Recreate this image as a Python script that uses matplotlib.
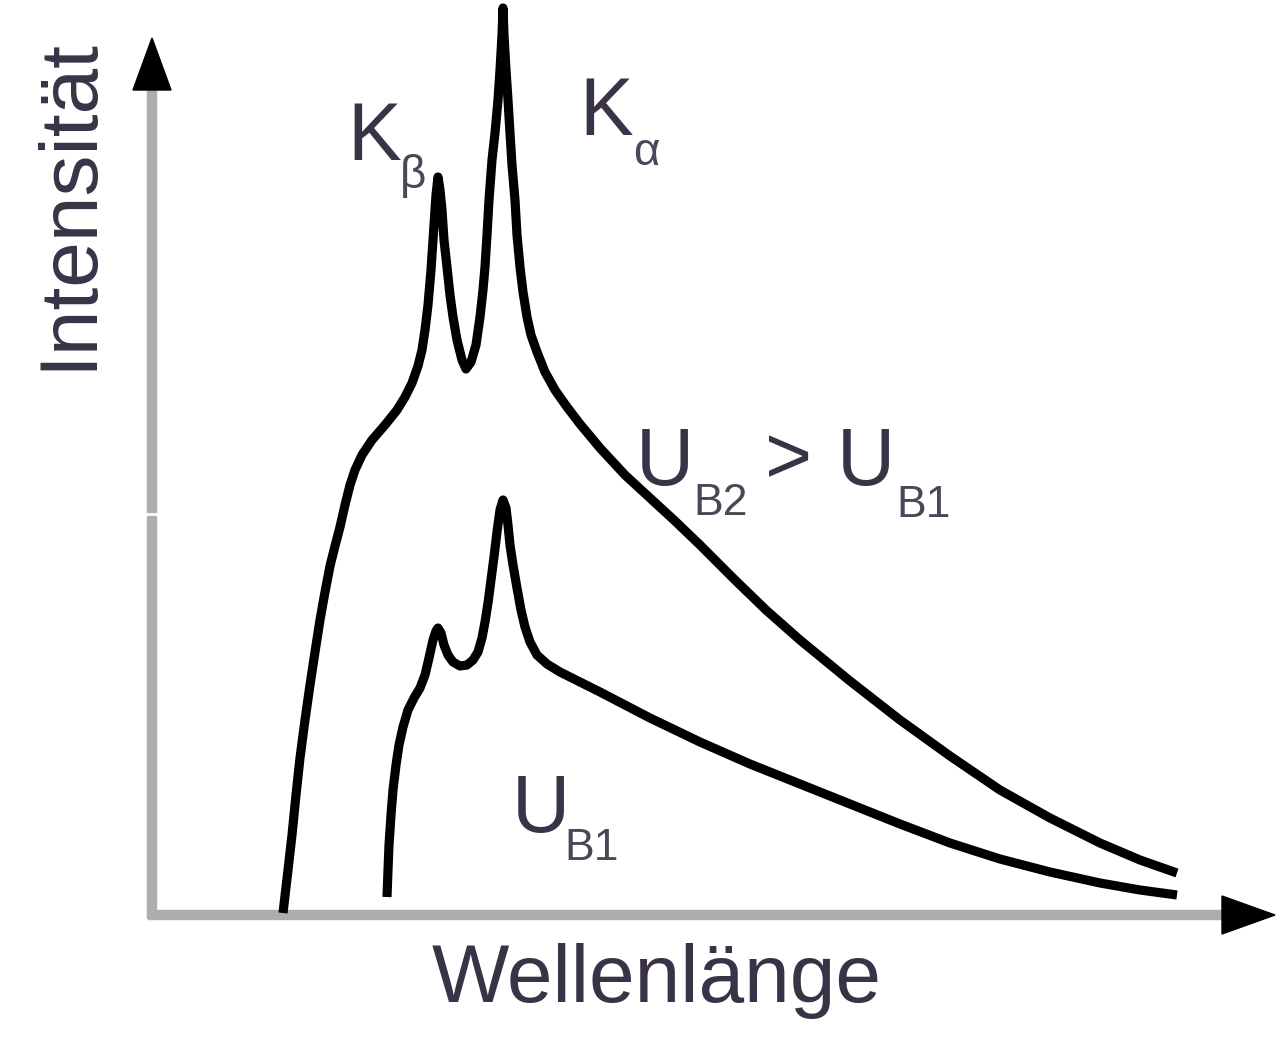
import matplotlib
matplotlib.use("Agg")
import matplotlib.pyplot as plt
from matplotlib.patches import Polygon

# ---- data (wavelength, intensity in arbitrary units) ----
upper_wl = [131, 136, 140, 144, 148, 153, 158, 163, 168, 173, 178, 183, 188, 193, 198,
            203, 210, 220, 233, 245, 253, 260, 266, 270, 273, 276, 279, 282, 284, 286,
            288, 290, 292, 295, 298, 301, 305, 310, 314, 319, 324, 328, 331, 333, 335,
            337, 340, 343, 346, 348, 350, 351, 352, 354, 356, 358, 360, 363, 365, 368,
            371, 375, 379, 385, 393, 403, 415, 428, 448, 473, 498, 523, 548, 581, 614,
            648, 698, 748, 798, 848, 898, 948, 988, 1025]
upper_int = [2, 45, 80, 120, 157, 195, 230, 263, 295, 323, 349, 369, 388, 410, 430,
             445, 460, 475, 490, 505, 518, 532, 549, 565, 585, 610, 645, 690, 720, 738,
             725, 705, 675, 648, 620, 598, 575, 555, 546, 553, 570, 598, 625, 648, 680,
             715, 755, 782, 815, 845, 880, 907, 880, 845, 815, 782, 750, 715, 680, 648,
             623, 598, 580, 563, 543, 525, 508, 491, 467, 440, 417, 394, 370, 337, 305,
             275, 234, 195, 159, 125, 97, 72, 55, 42]

lower_wl = [235, 236, 237, 239, 241, 244, 247, 251, 256, 262, 268, 273, 277, 281, 284,
            286, 289, 292, 296, 301, 308, 315, 321, 326, 330, 333, 336, 339, 342, 345,
            348, 351, 354, 356, 358, 361, 365, 369, 373, 378, 385, 395, 408, 428, 448,
            498, 548, 598, 648, 698, 748, 798, 848, 898, 948, 988, 1025]
lower_int = [18, 45, 70, 100, 125, 150, 170, 188, 205, 217, 227, 240, 257, 275, 284,
             287, 282, 270, 260, 253, 249, 250, 255, 263, 277, 293, 312, 335, 358, 383,
             405, 415, 407, 390, 370, 350, 327, 305, 288, 273, 260, 251, 243, 233, 223,
             197, 173, 151, 131, 111, 91, 72, 56, 43, 32, 25, 20]

x_label = "Wellenlänge"
y_label = "Intensität"

# ---- figure ----
W, H, DPI = 1280, 1037, 100
fig = plt.figure(figsize=(W / DPI, H / DPI), dpi=DPI)
fig.patch.set_facecolor("white")
ax = fig.add_axes([0, 0, 1, 1])
ax.set_xlim(-152, W - 152)
ax.set_ylim(915 - H, 915)
ax.axis("off")

FONT = ["Liberation Sans", "DejaVu Sans"]
TXT = "#3a3347"
SUB = "#4e4656"
AX_GRAY = "#adadad"

# axes with arrow heads
x_end, y_end = 1070, 825
x_tip, y_tip = 1123, 877
half = 19
ax.plot([-4, x_end], [0, 0], color=AX_GRAY, lw=7.5, solid_capstyle="butt", zorder=1)
ax.plot([0, 0], [-4, y_end], color=AX_GRAY, lw=7.5, solid_capstyle="butt", zorder=1)
ax.add_patch(Polygon([[x_end, -half], [x_end, half], [x_tip, 0]], closed=True,
                     facecolor="black", edgecolor="black", lw=1, zorder=2))
ax.add_patch(Polygon([[-half, y_end], [half, y_end], [0, y_tip]], closed=True,
                     facecolor="black", edgecolor="black", lw=1, zorder=2))
# small white tick on the y axis
ax.plot([-7, 8], [401, 401], color="white", lw=2, zorder=3)

# spectra
for xs, ys in ((upper_wl, upper_int), (lower_wl, lower_int)):
    ax.plot(xs, ys, color="black", lw=6.6, solid_joinstyle="round",
            solid_capstyle="butt", zorder=4)

# axis labels
ax.text(505, -87, x_label, family=FONT, fontsize=59, color=TXT,
        ha="center", va="baseline")
ax.text(-62, 711, y_label, family=FONT, fontsize=59, color=TXT,
        ha="center", va="baseline", rotation=90, rotation_mode="anchor")

# peak labels
ax.text(195, 755, "K", family=FONT, fontsize=58, color=TXT, ha="left", va="baseline")
ax.text(248, 727, "β", family=FONT, fontsize=33, color=SUB, ha="left", va="baseline")
ax.text(427, 780, "K", family=FONT, fontsize=58, color=TXT, ha="left", va="baseline")
ax.text(481, 750, "α", family=FONT, fontsize=33, color=SUB, ha="left", va="baseline")

# voltage labels
ax.text(484, 430, "U", family=FONT, fontsize=58, color=TXT, ha="left", va="baseline")
ax.text(541, 400, "B2", family=FONT, fontsize=32, color=SUB, ha="left", va="baseline")
ax.text(613, 432, ">", family=FONT, fontsize=58, color=TXT, ha="left", va="baseline")
ax.text(685, 430, "U", family=FONT, fontsize=58, color=TXT, ha="left", va="baseline")
ax.text(744, 398, "B1", family=FONT, fontsize=32, color=SUB, ha="left", va="baseline")

ax.text(360, 83, "U", family=FONT, fontsize=58, color=TXT, ha="left", va="baseline")
ax.text(412, 55, "B1", family=FONT, fontsize=32, color=SUB, ha="left", va="baseline")

fig.savefig("out.png", dpi=DPI, facecolor="white")
